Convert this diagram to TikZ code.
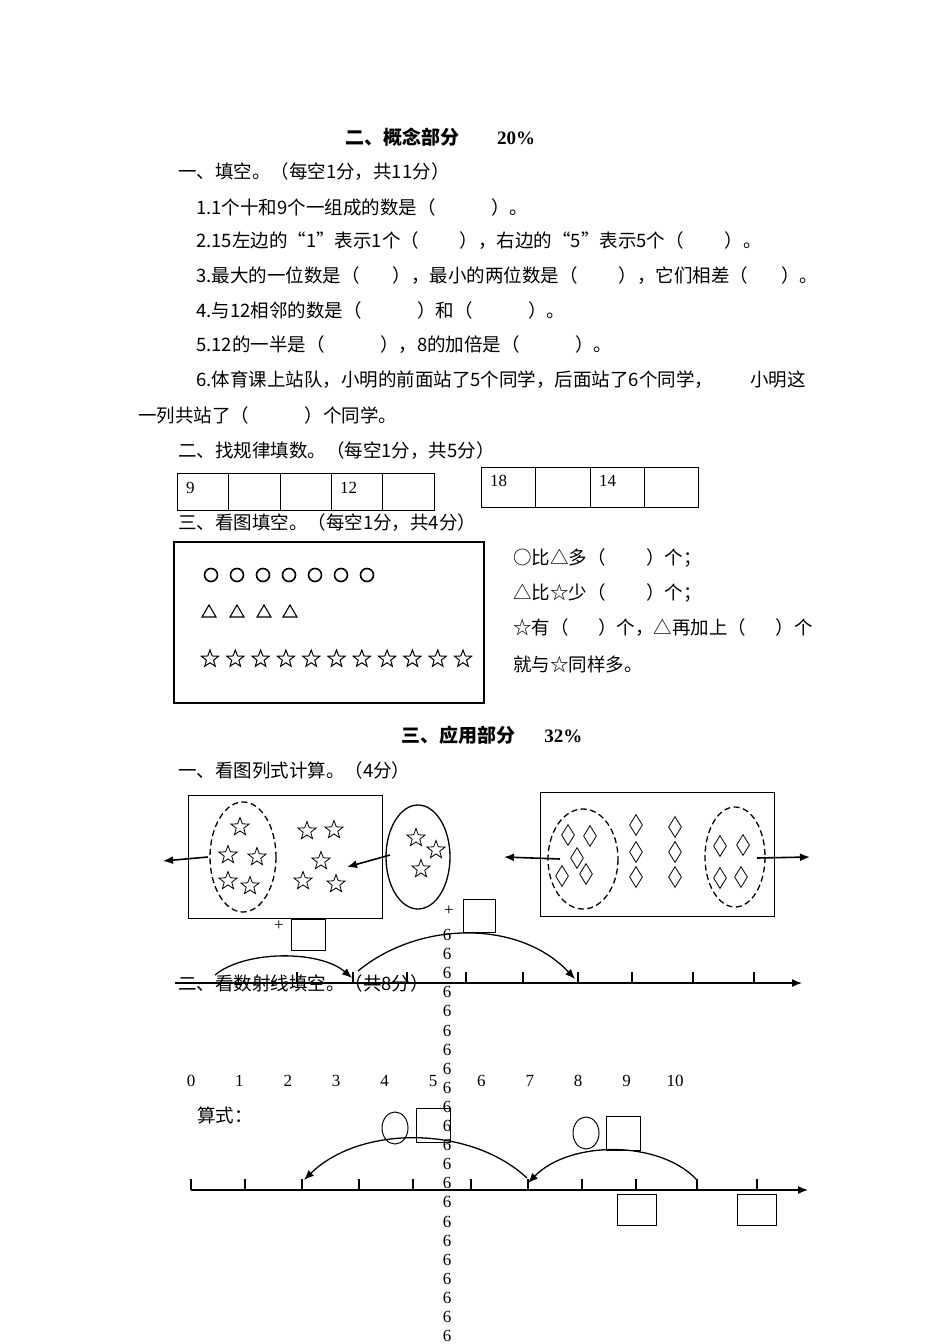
\documentclass[tikz,border=0pt]{standalone}
\usepackage{fontspec}
\setmainfont{Liberation Serif}
\newfontfamily\cjk{Noto Sans CJK SC}
\usetikzlibrary{shapes.geometric,arrows.meta}
\begin{document}
\begin{tikzpicture}[x=1pt,y=-1pt,
  txt/.style={anchor=west,inner sep=0pt,font=\cjk\fontsize{18.5}{21}\selectfont},
  ttl/.style={inner sep=0pt,font=\cjk\bfseries\fontsize{19}{22}\selectfont},
  num/.style={inner sep=0pt,font=\fontsize{17}{19}\selectfont},
  st/.style={star,star points=5,star point ratio=2.4,draw,inner sep=0pt,minimum size=19pt,line width=0.8pt},
  dm/.style={diamond,draw,inner sep=0pt,minimum width=13pt,minimum height=21pt,aspect=0.6,line width=0.8pt},
  bx/.style={draw,line width=1pt},
  dsh/.style={line width=1.3pt,dash pattern=on 6pt off 3.5pt},
  arr/.style={-{Latex[length=10pt,width=8pt]},line width=1.6pt},
  ln/.style={line width=1.4pt}]
\useasboundingbox (0,0) rectangle (950,1344);
\node[ttl] (t1) at (440,137) {二、概念部分\hspace{2em}\rmfamily 20\%};
\node[txt] (a0) at (178,172) {一、填空。（每空1分，共11分）};
\node[txt] (a1) at (196,207) {1.1个十和9个一组成的数是（\hspace{3em}）。};
\node[txt] (a2) at (196,241) {2.15左边的“1”表示1个（\hspace{2.2em}），右边的“5”表示5个（\hspace{2.2em}）。};
\node[txt] (a3) at (196,276) {3.最大的一位数是（\hspace{1.8em}），最小的两位数是（\hspace{2.2em}），它们相差（\hspace{1.8em}）。};
\node[txt] (a4) at (196,310) {4.与12相邻的数是（\hspace{3em}）和（\hspace{3em}）。};
\node[txt] (a5) at (196,345) {5.12的一半是（\hspace{3em}），8的加倍是（\hspace{3em}）。};
\node[txt] (a6) at (196,380) {6.体育课上站队，小明的前面站了5个同学，后面站了6个同学，\hspace{2em}小明这};
\node[txt] (a7) at (138,415) {一列共站了（\hspace{3em}）个同学。};
\node[txt] (b0) at (178,451) {二、找规律填数。（每空1分，共5分）};
\draw[bx] (177,473) rectangle (434,510);
\foreach \x in {228,280,331,382} \draw[bx] (\x,473) -- (\x,510);
\node[num,anchor=west] (c1) at (186,488) {9};
\node[num,anchor=west] (c4) at (340,488) {12};
\draw[bx] (481,467) rectangle (698,507);
\foreach \x in {535,590,644} \draw[bx] (\x,467) -- (\x,507);
\node[num,anchor=west] (d1) at (490,481) {18};
\node[num,anchor=west] (d3) at (599,481) {14};
\node[txt] (e0) at (178,523) {三、看图填空。（每空1分，共4分）};
\draw[bx,line width=1.4pt] (174,542) rectangle (484,703);
\foreach \i in {0,...,6} \draw[line width=1.6pt] (211+26*\i,575) circle (6.5);
\foreach \x in {209,237,264,290} \draw[line width=1.1pt] (\x-7,617) -- (\x+7,617) -- (\x,605) -- cycle;
\foreach \i in {0,...,10} \node[st,minimum size=18pt,line width=1pt] at (210+25.3*\i,659) {};
\node[txt] (f1) at (513,558) {○比△多（\hspace{2.2em}）个；};
\node[txt] (f2) at (513,593) {△比☆少（\hspace{2.2em}）个；};
\node[txt] (f3) at (513,628) {☆有（\hspace{1.6em}）个，△再加上（\hspace{1.6em}）个};
\node[txt] (f4) at (513,664) {就与☆同样多。};
\node[ttl] (t2) at (492,735) {三、应用部分\hspace{1.5em}\rmfamily 32\%};
\node[txt] (g0) at (178,770) {一、看图列式计算。（4分）};
% figure 1
\draw[bx] (188,795) rectangle (382,918);
\draw[dsh] (243,857) ellipse (33 and 55);
\foreach \p in {(240,827),(228,855),(257,857),(228,881),(250,886),(307,831),(334,830),(321,861),(303,881),(336,884)} \node[st] at \p {};
\draw[line width=1.3pt] (418,857) ellipse (32 and 52);
\foreach \p in {(416,838),(436,850),(421,869)} \node[st] at \p {};
\coordinate (l1) at (208,857); \coordinate (l2) at (163,861);
\draw[arr] (l1) -- (l2);
\coordinate (m1) at (390,855); \coordinate (m2) at (347,867);
\draw[arr] (m1) -- (m2);
% figure 2
\draw[bx] (540,792) rectangle (774,916);
\draw[dsh] (583,859) ellipse (35 and 50);
\draw[dsh] (735,857) ellipse (30 and 50);
\foreach \p in {(568,835),(590,836),(577,858),(562,876),(586,874),(636,825),(636,852),(636,877),(675,827),(675,852),(675,877),(720,846),(743,845),(720,878),(741,877)} \node[dm] at \p {};
\coordinate (n1) at (560,859); \coordinate (n2) at (504,857);
\draw[arr] (n1) -- (n2);
\coordinate (o1) at (757,858); \coordinate (o2) at (810,857);
\draw[arr] (o1) -- (o2);
\node[num] (p1) at (279,926) {+};
\draw[bx] (291,919) rectangle (325,950);
\node[num] (p2) at (449,911) {+};
\draw[bx] (463,899) rectangle (495,932);
% number line 1
\node[txt] (h0) at (178,983) {二、看数射线填空。（共8分）};
\coordinate (ax1) at (175,983); \coordinate (ax2) at (802,983);
\draw[ln,-{Latex[length=10pt,width=8pt]}] (ax1) -- (ax2);
\foreach \x in {297,353,407,466,523,578,632,693,754} \draw[ln] (\x,983) -- (\x,972);
\coordinate (r1) at (215,975); \coordinate (r2) at (352,978);
\draw[arr,line width=1.3pt] (r1) .. controls (245,950) and (320,950) .. (r2);
\coordinate (s1) at (358,971); \coordinate (s2) at (575,979);
\draw[arr,line width=1.3pt] (s1) .. controls (420,920) and (520,920) .. (s2);
\foreach \n [count=\i from 0] in {0,...,10} \node[num] at (191+48.4*\i,1081) {\n};
% column of 6
\foreach \k in {0,...,21} \node[num] at (447,935+19.1*\k) {6};
% number line 2
\node[txt] (q0) at (197,1115) {算式：};
\draw[line width=1pt] (395,1128) ellipse (13 and 16);
\draw[bx] (416,1108) rectangle (450,1142);
\draw[line width=1pt] (586,1133) ellipse (13 and 16);
\draw[bx] (606,1116) rectangle (640,1150);
\coordinate (bx1) at (191,1190); \coordinate (bx2) at (808,1190);
\draw[ln,-{Latex[length=10pt,width=8pt]}] (bx1) -- (bx2);
\foreach \x in {191,245,302,359,413,471,528,582,636,697,757} \draw[ln] (\x,1190) -- (\x,1179);
\coordinate (u1) at (527,1178); \coordinate (u2) at (304,1180);
\draw[arr,line width=1.3pt] (u1) .. controls (470,1125) and (360,1125) .. (u2);
\coordinate (v1) at (697,1180); \coordinate (v2) at (528,1183);
\draw[arr,line width=1.3pt] (v1) .. controls (660,1140) and (570,1140) .. (v2);
\draw[bx] (617,1194) rectangle (656,1225);
\draw[bx] (737,1194) rectangle (776,1225);
\end{tikzpicture}
\end{document}
